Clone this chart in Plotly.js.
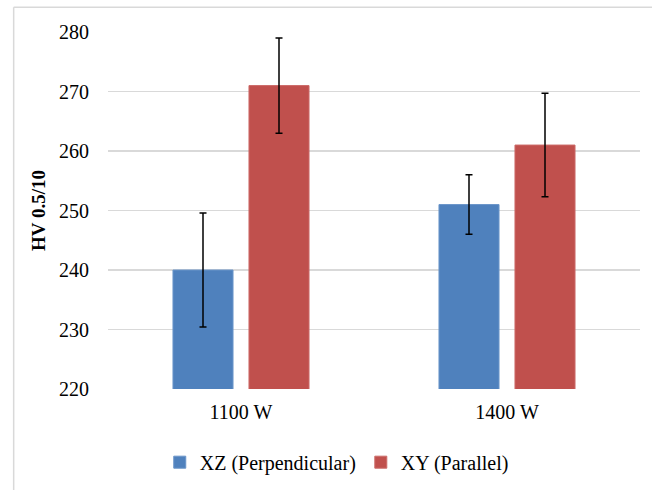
<!DOCTYPE html>
<html>
<head>
<meta charset="utf-8">
<script src="https://cdn.plot.ly/plotly-3.0.1.min.js"></script>
<style>html,body{margin:0;padding:0;background:#fff;}#chart{width:652px;height:490px;}</style>
</head>
<body>
<div id="chart"></div>
<script>
var categories = ["1100 W", "1400 W"];
var seriesNames = ["XZ (Perpendicular)", "XY (Parallel)"];
var xzValues = [240, 251];
var xzErrors = [9.6, 5.0];
var xyValues = [271, 261];
var xyErrors = [8.0, 8.7];
var yTicks = [220, 230, 240, 250, 260, 270, 280];

var font = "Liberation Serif";
function errStyle(arr) {
  return {type: "data", array: arr, visible: true, color: "#000000", thickness: 1.5, width: 3.5};
}
var traces = [
  {type: "bar", name: seriesNames[0], x: categories, y: xzValues, error_y: errStyle(xzErrors),
   marker: {color: "#4f81bd", line: {color: "#6a95c9", width: 1}}},
  {type: "bar", name: seriesNames[1], x: categories, y: xyValues, error_y: errStyle(xyErrors),
   marker: {color: "#c0504d", line: {color: "#cc6b68", width: 1}}}
];
var layout = {
  width: 652, height: 490,
  margin: {l: 107.5, r: 11.5, t: 32, b: 101, autoexpand: false},
  paper_bgcolor: "#ffffff", plot_bgcolor: "#ffffff",
  font: {family: font, size: 20, color: "#000000"},
  barmode: "group", bargap: 0.4286, bargroupgap: 0.21,
  showlegend: true,
  legend: {orientation: "h", x: 0.43, xanchor: "center", y: -0.205, yanchor: "middle",
           font: {family: font, size: 20, color: "#000000"}, itemwidth: 30, tracegroupgap: 0},
  xaxis: {type: "category", showgrid: false, zeroline: false, showline: false, ticks: "",
          tickfont: {family: font, size: 20, color: "#000000"}, ticklabelstandoff: 9, automargin: false},
  yaxis: {range: [220, 280], tickvals: yTicks, ticktext: yTicks.map(String), showgrid: true,
          gridcolor: "#d9d9d9", gridwidth: 1.3, zeroline: false, showline: false, ticks: "",
          tickfont: {family: font, size: 20, color: "#000000"}, ticklabelstandoff: 18, automargin: false,
          title: {text: "<b>HV 0.5/10</b>", font: {family: font, size: 19, color: "#000000"}, standoff: 8}},
  shapes: [
    {type: "line", xref: "paper", yref: "paper", x0: -0.1773, x1: -0.1773, y0: 1.0692, y1: -0.3, line: {color: "#d9d9d9", width: 1.5}},
    {type: "line", xref: "paper", yref: "paper", x0: -0.1773, x1: 1.03, y0: 1.0692, y1: 1.0692, line: {color: "#d9d9d9", width: 1.5}}
  ]
};
Plotly.newPlot("chart", traces, layout, {displayModeBar: false, staticPlot: true});
</script>
</body>
</html>
